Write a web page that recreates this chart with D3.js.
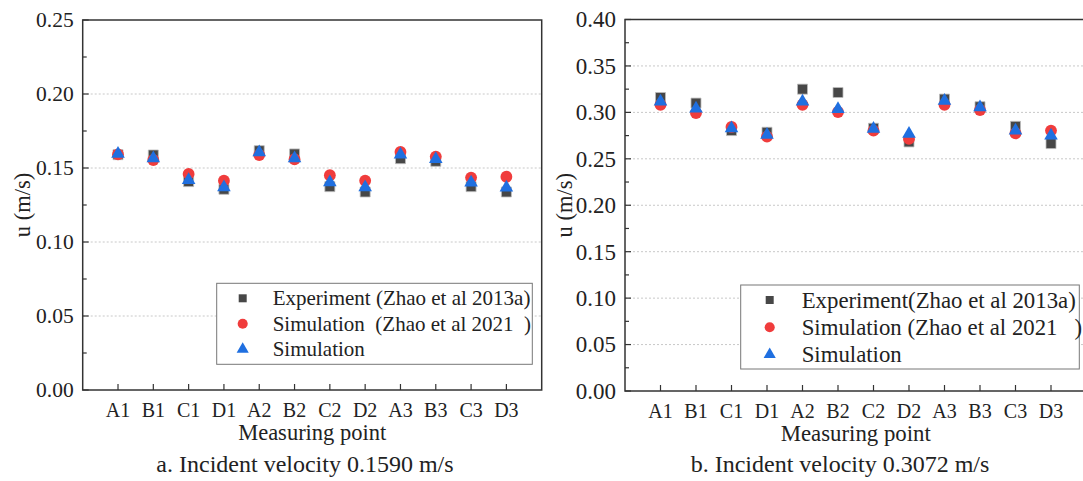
<!DOCTYPE html>
<html>
<head>
<meta charset="utf-8">
<script src="https://cdn.jsdelivr.net/npm/d3@7"></script>
<style>
  body { margin: 0; background: #fff; }
  svg { display: block; font-family: "Liberation Serif", "Times New Roman", serif; }
</style>
</head>
<body>
<svg id="chart" width="1083" height="481"></svg>
<script>
const points = ["A1", "B1", "C1", "D1", "A2", "B2", "C2", "D2", "A3", "B3", "C3", "D3"];

// panel a, incident velocity 0.1590 m/s
const expA = [0.159, 0.1588, 0.1408, 0.1356, 0.1617, 0.1595, 0.1374, 0.1338, 0.1563, 0.1545, 0.1374, 0.1338];
const zhaoA = [0.1592, 0.1554, 0.146, 0.1414, 0.1588, 0.1559, 0.1451, 0.1414, 0.1608, 0.1577, 0.1435, 0.1441];
const simA = [0.1595, 0.1565, 0.1419, 0.137, 0.1606, 0.1565, 0.1403, 0.137, 0.159, 0.156, 0.1401, 0.1367];
const ticksA = [0, 0.05, 0.10, 0.15, 0.20, 0.25];

// panel b, incident velocity 0.3072 m/s
const expB = [0.316, 0.310, 0.2804, 0.2786, 0.325, 0.3214, 0.2829, 0.2682, 0.3143, 0.3061, 0.285, 0.2664];
const zhaoB = [0.3082, 0.2993, 0.2843, 0.2739, 0.3082, 0.3004, 0.2804, 0.2714, 0.3082, 0.3025, 0.2775, 0.2804];
const simB = [0.3115, 0.304, 0.2829, 0.2757, 0.3115, 0.3036, 0.2822, 0.2768, 0.3125, 0.3054, 0.2804, 0.275];
const ticksB = [0, 0.05, 0.10, 0.15, 0.20, 0.25, 0.30, 0.35, 0.40];

const svg = d3.select("#chart");

const symSquare = d3.symbol().type(d3.symbolSquare);
const symCircle = d3.symbol().type(d3.symbolCircle);
const symTri = d3.symbol().type(d3.symbolTriangle);

function drawPanel(o) {
  const x = d3.scaleLinear().domain([0, points.length + 1]).range([o.left, o.right]);
  const y = d3.scaleLinear().domain([0, o.ymax]).range([o.bottom, o.top]);
  const g = svg.append("g");

  // dotted grid
  g.append("g").selectAll("line")
    .data(o.ticks.filter(t => t > 0 && t < o.ymax))
    .join("line")
      .attr("x1", o.left).attr("x2", o.right)
      .attr("y1", d => y(d)).attr("y2", d => y(d))
      .attr("stroke", "#c8c8c8")
      .attr("stroke-width", 1)
      .attr("stroke-dasharray", "2,2");

  // frame
  g.append("rect")
    .attr("x", o.left).attr("y", o.top)
    .attr("width", o.right - o.left).attr("height", o.bottom - o.top)
    .attr("fill", "none").attr("stroke", "#333").attr("stroke-width", 1.5);

  // y axis, ticks inside
  const minor = d3.range(0, o.ymax + 1e-9, 0.025);
  g.append("g").selectAll("line")
    .data(minor)
    .join("line")
      .attr("x1", o.left)
      .attr("x2", (d, i) => o.left + (i % 2 ? 4 : 6))
      .attr("y1", d => y(d)).attr("y2", d => y(d))
      .attr("stroke", "#333").attr("stroke-width", 1.2);

  g.append("g").selectAll("text")
    .data(o.ticks)
    .join("text")
      .attr("x", o.left - 9)
      .attr("y", d => y(d))
      .attr("dy", "0.34em")
      .attr("text-anchor", "end")
      .attr("font-size", o.fs.tick)
      .attr("fill", "#222")
      .text(d => d3.format(".2f")(d));

  // x axis, ticks inside
  g.append("g").selectAll("line")
    .data(points)
    .join("line")
      .attr("x1", (d, i) => x(i + 1)).attr("x2", (d, i) => x(i + 1))
      .attr("y1", o.bottom).attr("y2", o.bottom - 6)
      .attr("stroke", "#333").attr("stroke-width", 1.2);

  g.append("g").selectAll("text")
    .data(points)
    .join("text")
      .attr("x", (d, i) => x(i + 1))
      .attr("y", o.bottom + 27)
      .attr("text-anchor", "middle")
      .attr("font-size", 20)
      .attr("fill", "#222")
      .text(d => d);

  g.append("text")
    .attr("x", (o.left + o.right) / 2)
    .attr("y", o.bottom + 50)
    .attr("text-anchor", "middle")
    .attr("font-size", o.fs.title)
    .attr("fill", "#222")
    .text("Measuring point");

  g.append("text")
    .attr("transform", `translate(${o.ylabX},${(o.top + o.bottom) / 2}) rotate(-90)`)
    .attr("dy", "0.34em")
    .attr("text-anchor", "middle")
    .attr("font-size", 22.5)
    .attr("fill", "#222")
    .text("u (m/s)");

  g.append("text")
    .attr("x", o.capX)
    .attr("y", 472)
    .attr("text-anchor", "middle")
    .attr("font-size", 24)
    .attr("fill", "#222")
    .text(o.caption);

  // markers
  const series = [
    { vals: o.exp, sym: symSquare.size(100), fill: "#474747", stroke: "#bdbdbd" },
    { vals: o.zhao, sym: symCircle.size(110), fill: "#f03c3c", stroke: "none" },
    { vals: o.sim, sym: symTri.size(80), fill: "#1f6fe0", stroke: "none" }
  ];
  series.forEach(s => {
    g.append("g").selectAll("path")
      .data(s.vals)
      .join("path")
        .attr("d", s.sym)
        .attr("transform", (d, i) => `translate(${x(i + 1)},${y(d)})`)
        .attr("fill", s.fill)
        .attr("stroke", s.stroke)
        .attr("stroke-width", 0.8);
  });

  // legend
  const lg = g.append("g");
  lg.append("rect")
    .attr("x", o.leg.x).attr("y", o.leg.y)
    .attr("width", o.leg.w).attr("height", o.leg.h)
    .attr("fill", "#fff").attr("stroke", "#777").attr("stroke-width", 1);
  const legSym = [symSquare.size(64), symCircle.size(80), symTri.size(64)];
  const legFill = ["#474747", "#f03c3c", "#1f6fe0"];
  o.legLabels.forEach((lab, i) => {
    const cy = o.leg.y + 15 + i * o.leg.step;
    lg.append("path")
      .attr("d", legSym[i])
      .attr("transform", `translate(${o.leg.x + o.leg.mx},${cy})`)
      .attr("fill", legFill[i]);
    lg.append("text")
      .attr("x", o.leg.x + o.leg.tx)
      .attr("y", cy)
      .attr("dy", "0.34em")
      .attr("font-size", o.fs.legend)
      .attr("fill", "#222")
      .attr("xml:space", "preserve")
      .style("white-space", "pre")
      .text(lab);
  });
}

drawPanel({
  left: 82.7, right: 541.7, top: 20, bottom: 390, ymax: 0.25, ticks: ticksA,
  exp: expA, zhao: zhaoA, sim: simA,
  ylabX: 22, capX: 305,
  fs: { tick: 21.5, title: 22.5, legend: 21 },
  caption: "a. Incident velocity 0.1590 m/s",
  legLabels: ["Experiment (Zhao et al 2013a)", "Simulation  (Zhao et al 2021  )", "Simulation"],
  leg: { x: 216.7, y: 283.3, w: 315.6, h: 81, step: 25.5, mx: 26, tx: 56 }
});

drawPanel({
  left: 625, right: 1086.5, top: 19.5, bottom: 391, ymax: 0.40, ticks: ticksB,
  exp: expB, zhao: zhaoB, sim: simB,
  ylabX: 564, capX: 840,
  fs: { tick: 23, title: 22.8, legend: 22.8 },
  caption: "b. Incident velocity 0.3072 m/s",
  legLabels: ["Experiment(Zhao et al 2013a)", "Simulation (Zhao et al 2021   )", "Simulation"],
  leg: { x: 740.7, y: 285, w: 338.6, h: 84, step: 27.3, mx: 29, tx: 61 }
});
</script>
</body>
</html>
